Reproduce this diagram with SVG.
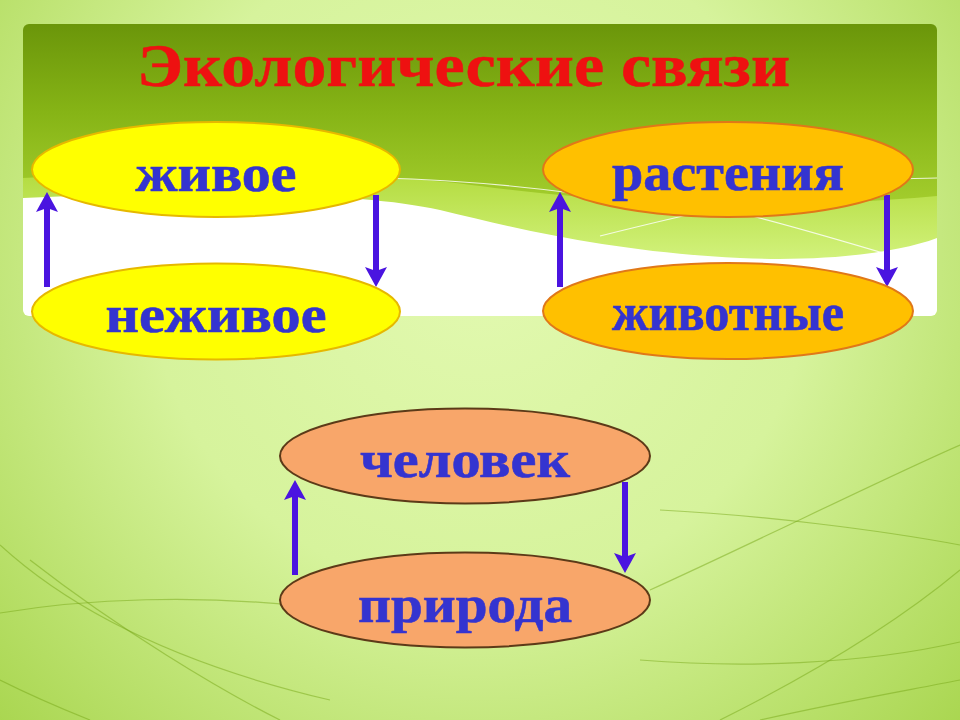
<svg xmlns="http://www.w3.org/2000/svg" width="960" height="720" viewBox="0 0 960 720">
<defs>
<radialGradient id="bg" cx="480" cy="260" r="740" gradientUnits="userSpaceOnUse">
<stop offset="0" stop-color="#e2f9b0"/>
<stop offset="0.45" stop-color="#d6f39c"/>
<stop offset="1" stop-color="#a0d040"/>
</radialGradient>
<linearGradient id="ban" x1="0" y1="25" x2="0" y2="316" gradientUnits="userSpaceOnUse">
<stop offset="0" stop-color="#6b960a"/>
<stop offset="0.3" stop-color="#86b416"/>
<stop offset="0.6" stop-color="#a2cc2c"/>
<stop offset="1" stop-color="#b8e048"/>
</linearGradient>
<linearGradient id="band" x1="0" y1="175" x2="0" y2="260" gradientUnits="userSpaceOnUse">
<stop offset="0" stop-color="#b4dc40"/>
<stop offset="1" stop-color="#d2f27c"/>
</linearGradient>
<clipPath id="bc"><rect x="23" y="24" width="914" height="292" rx="6"/></clipPath>
<marker id="ah" viewBox="-7 -12 23 24" refX="0" refY="0" markerWidth="23" markerHeight="24" markerUnits="userSpaceOnUse" orient="auto">
<path d="M14,0 L-6,-11 L-2,0 L-6,11 Z" fill="#4a14e0"/>
</marker>
</defs>
<style>
.lbl{font-family:"Liberation Serif","Times New Roman",serif;font-weight:bold;font-size:53px;fill:#3434d0;stroke:#3434d0;stroke-width:0.6;text-anchor:middle}
.title{font-family:"Liberation Serif","Times New Roman",serif;font-weight:bold;font-size:62px;fill:#ee1111;stroke:#ee1111;stroke-width:0.5}
.yel{fill:#ffff00;stroke:#e6b800;stroke-width:2}
.org{fill:#ffc000;stroke:#e07818;stroke-width:2}
.sal{fill:#f8a66a;stroke:#5c3a18;stroke-width:2}
.arr{stroke:#4a14e0;stroke-width:6;fill:none;marker-end:url(#ah)}
.deco{fill:none;stroke:#78a818;stroke-width:1.2;opacity:0.5}
.wl{fill:none;stroke:#ffffff;stroke-width:1.2;opacity:0.8}
</style>
<rect x="0" y="0" width="960" height="720" fill="url(#bg)"/>
<g id="background-lines">
<path class="deco" d="M0,613 C90,598 200,595 300,606"/>
<path class="deco" d="M0,545 C60,600 160,660 330,700"/>
<path class="deco" d="M30,560 C120,630 220,690 280,720"/>
<path class="deco" d="M0,680 C40,700 70,712 90,720"/>
<path class="deco" d="M640,660 C740,668 860,665 960,642"/>
<path class="deco" d="M720,720 C820,670 900,620 960,570"/>
<path class="deco" d="M650,590 C760,540 880,480 960,445"/>
<path class="deco" d="M660,510 C760,515 880,530 960,545"/>
<path class="deco" d="M760,720 C850,700 910,690 960,680"/>
</g>
<g id="banner" clip-path="url(#bc)">
<rect x="23" y="24" width="914" height="292" fill="url(#ban)"/>
<path d="M23,178 C200,170 380,172 480,186 C600,202 760,212 937,196 L937,316 L23,316 Z" fill="url(#band)"/>
<path d="M23,198 C200,190 360,192 440,210 C530,232 620,252 740,258 C830,262 900,252 937,238 L937,316 L23,316 Z" fill="#ffffff"/>
<path class="wl" d="M380,178 C460,180 520,186 580,194"/>
<path class="wl" d="M880,180 C900,179 920,178 937,178"/>
<path class="wl" d="M600,236 C640,226 680,216 720,208 C780,222 840,240 900,258"/>
</g>
<text class="title" x="137" y="86" textLength="653" lengthAdjust="spacingAndGlyphs">Экологические связи</text>
<g id="connectors">
<line class="arr" x1="47" y1="287" x2="47" y2="206"/>
<line class="arr" x1="376" y1="195" x2="376" y2="273"/>
<line class="arr" x1="560" y1="287" x2="560" y2="206"/>
<line class="arr" x1="887" y1="195" x2="887" y2="273"/>
<line class="arr" x1="295" y1="575" x2="295" y2="494"/>
<line class="arr" x1="625" y1="482" x2="625" y2="559"/>
</g>
<g id="zhivoe">
<ellipse class="yel" cx="216" cy="169.5" rx="184" ry="47.5"/>
<text class="lbl" x="216" y="191" textLength="161" lengthAdjust="spacingAndGlyphs">живое</text>
</g>
<g id="nezhivoe">
<ellipse class="yel" cx="216" cy="311.5" rx="184" ry="48"/>
<text class="lbl" x="216" y="332" textLength="221" lengthAdjust="spacingAndGlyphs">неживое</text>
</g>
<g id="rasteniya">
<ellipse class="org" cx="728" cy="169.5" rx="185" ry="47.5"/>
<text class="lbl" x="728" y="190" textLength="232" lengthAdjust="spacingAndGlyphs">растения</text>
</g>
<g id="zhivotnye">
<ellipse class="org" cx="728" cy="311" rx="185" ry="48"/>
<text class="lbl" x="728" y="330" textLength="232" lengthAdjust="spacingAndGlyphs">животные</text>
</g>
<g id="chelovek">
<ellipse class="sal" cx="465" cy="456" rx="185" ry="47.5"/>
<text class="lbl" x="465" y="477" textLength="210" lengthAdjust="spacingAndGlyphs">человек</text>
</g>
<g id="priroda">
<ellipse class="sal" cx="465" cy="600" rx="185" ry="47.5"/>
<text class="lbl" x="465" y="622" textLength="214" lengthAdjust="spacingAndGlyphs">природа</text>
</g>
</svg>
